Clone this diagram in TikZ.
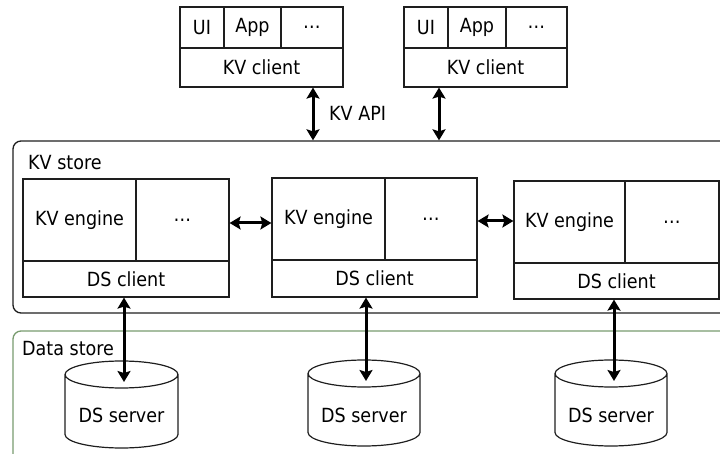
\documentclass[tikz,border=0pt]{standalone}
\usepackage{fontspec}
\setmainfont{DejaVu Sans Condensed}
\usetikzlibrary{arrows.meta}
\definecolor{edge}{RGB}{30,30,30}
\definecolor{dsgreen}{RGB}{120,155,110}
\newcommand\cellbox[6]{\node[cell,minimum width={(#4-#2)*1pt},minimum height={(#5-#3)*1pt}] (#1) at ({(#2+#4)/2},{(#3+#5)/2}) {#6};}
\newcommand\dscyl[5]{%
  \pgfmathsetmacro\crx{(#3-#2)/2}
  \draw[cyl] (#2,#4+13.5) arc[start angle=180,end angle=-180,x radius=\crx,y radius=13.5]
     -- (#2,#5-13.5) arc[start angle=180,end angle=0,x radius=\crx,y radius=13.5] -- (#3,#4+13.5);
  \node[txt] (#1) at ({(#2+#3)/2},415) {DS server};}
\begin{document}
\begin{tikzpicture}[x=1pt,y=-1pt,
  cell/.style={draw=edge,line width=1.2pt,inner sep=0pt,font=\fontsize{19.5}{23}\selectfont},
  txt/.style={inner sep=0pt,font=\fontsize{19.5}{23}\selectfont},
  cyl/.style={draw=edge,line width=1.2pt},
  conn/.style={line width=3pt,{Stealth[length=11pt,width=13pt,inset=2pt]}-{Stealth[length=11pt,width=13pt,inset=2pt]}}]
\useasboundingbox (0,0) rectangle (720,454);
% containers
\node[draw=edge,line width=1.3pt,rounded corners=8pt,minimum width=720pt,minimum height=172pt,inner sep=0pt] (kvstore) at (373,227) {};
\node[draw=dsgreen,line width=1.3pt,rounded corners=8pt,minimum width=720pt,minimum height=140pt,inner sep=0pt] (dstore) at (373,401) {};
\node[txt,anchor=west] (kvlab) at (28,163) {KV store};
\node[txt,anchor=west] (dslab) at (22,349) {Data store};
% clients
\cellbox{ui1}{180}{7}{224}{48}{UI}
\cellbox{app1}{224}{7}{281}{48}{App}
\cellbox{etc1}{281}{7}{343}{48}{\ldots}
\cellbox{kvc1}{180}{48}{343}{87}{KV client}
\cellbox{ui2}{404}{7}{448}{48}{UI}
\cellbox{app2}{448}{7}{506}{48}{App}
\cellbox{etc2}{506}{7}{567}{48}{\ldots}
\cellbox{kvc2}{404}{48}{567}{87}{KV client}
\coordinate (a1) at (313,0);
\coordinate (a2) at (439,0);
\draw[conn] (kvc1.south -| a1) -- (kvstore.north -| a1);
\draw[conn] (kvc2.south -| a2) -- (kvstore.north -| a2);
\node[txt,anchor=west] (api) at (329,113) {KV API};
% engines
\cellbox{eng1}{23}{179}{136}{261}{KV engine}
\cellbox{dots1}{136}{179}{229}{261}{\ldots}
\cellbox{dsc1}{23}{261}{229}{297}{DS client}
\cellbox{eng2}{272}{178}{385}{260}{KV engine}
\cellbox{dots2}{385}{178}{477}{260}{\ldots}
\cellbox{dsc2}{272}{260}{477}{297}{DS client}
\cellbox{eng3}{514}{181}{625}{263}{KV engine}
\cellbox{dots3}{625}{181}{719}{263}{\ldots}
\cellbox{dsc3}{514}{263}{719}{299}{DS client}
\coordinate (h1) at (0,223);
\coordinate (h2) at (0,221);
\draw[conn] (dots1.east |- h1) -- (eng2.west |- h1);
\draw[conn] (dots2.east |- h2) -- (eng3.west |- h2);
% servers
\dscyl{srv1}{65}{178}{361}{448}
\dscyl{srv2}{308}{420}{360}{446}
\dscyl{srv3}{555}{667}{360}{446}
\coordinate (t1) at (124,382);
\coordinate (t2) at (366,381);
\coordinate (t3) at (614,381);
\draw[conn] (dsc1.south -| t1) -- (t1);
\draw[conn] (dsc2.south -| t2) -- (t2);
\draw[conn] (dsc3.south -| t3) -- (t3);
\end{tikzpicture}
\end{document}
